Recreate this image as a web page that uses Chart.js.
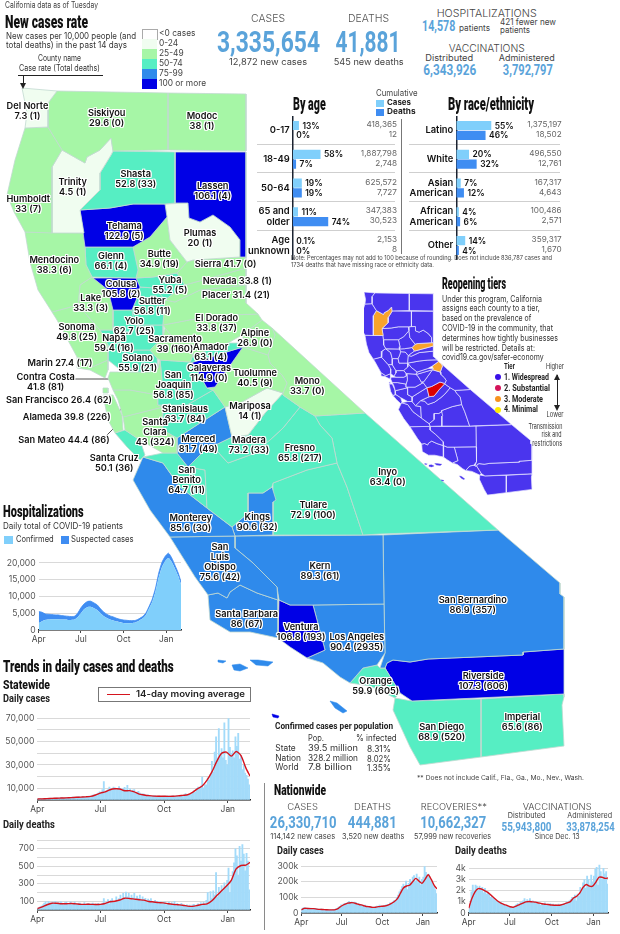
<!DOCTYPE html>
<html>
<head>
<meta charset="utf-8">
<title>California COVID-19</title>
<script src="https://cdn.jsdelivr.net/npm/chart.js@4"></script>
<style>
  html, body { margin: 0; background: #fff; }
  #page { position: relative; width: 620px; height: 934px; overflow: hidden; }
  #page canvas { position: absolute; }
  .t { position: absolute; white-space: pre; z-index: 3; }
  .halo { text-shadow: 1px 0 #fff, -1px 0 #fff, 0 1px #fff, 0 -1px #fff, 1px 1px #fff, -1px -1px #fff, 1px -1px #fff, -1px 1px #fff; }
  .box { position: absolute; z-index: 2; }
</style>
</head>
<body>
<div id="page"></div>
<script>
// ---- county data
let countyNames = ['Del Norte','Siskiyou','Modoc','Humboldt','Trinity','Shasta','Lassen','Tehama','Plumas','Mendocino','Glenn','Butte','Sierra','Nevada','Placer','Colusa','Yuba','Sutter','Lake','Yolo','Sonoma','Napa','Sacramento','El Dorado','Amador','Alpine','Solano','Calaveras','Tuolumne','Marin','Contra Costa','San Joaquin','Mono','San Francisco','Alameda','Stanislaus','Mariposa','San Mateo','Santa Clara','Merced','Madera','Fresno','Santa Cruz','San Benito','Inyo','Monterey','Kings','Tulare','San Luis Obispo','Kern','Santa Barbara','Ventura','Los Angeles','San Bernardino','Orange','Riverside','San Diego','Imperial'];
let countyRates = [7.3,29.6,38,33,4.5,52.8,106.1,122.9,20,38.3,66.1,34.9,41.7,33.8,31.4,105.8,55.2,56.8,33.3,62.7,49.8,59.4,39,33.8,63.1,26.9,55.9,114.9,40.5,27.4,41.8,56.8,33.7,26.4,39.8,63.7,14,44.4,43,81.7,73.2,65.8,50.1,64.7,63.4,85.6,90.6,72.9,75.6,89.3,86,106.8,90.4,86.9,59.9,107.3,68.9,65.6];
let countyDeaths = [1,0,1,7,1,33,4,5,1,6,4,19,0,1,21,2,5,11,3,25,25,16,160,37,4,0,21,0,9,17,81,85,0,62,226,84,1,86,324,49,33,217,36,11,0,30,32,100,42,61,67,193,2935,357,605,606,520,86];

// county outlines in map units
let countyOutlines = [
  [[22,88],[57,91],[48,103],[48,127],[25,128],[27,113]],
  [[57,91],[168,93],[168,150],[113,151],[111,138],[100,150],[87,157],[85,163],[62,150],[48,127],[48,103]],
  [[168,93],[246,94],[246,151],[168,150]],
  [[25,128],[48,127],[62,150],[52,167],[52,233],[25,232],[14,212],[7,195],[15,160]],
  [[62,150],[85,163],[87,157],[100,150],[111,138],[113,151],[111,155],[100,173],[100,190],[80,210],[84,233],[52,233],[52,167]],
  [[113,151],[175,152],[175,203],[165,204],[133,204],[110,208],[80,210],[100,190],[100,173],[111,155]],
  [[175,152],[246,152],[246,257],[240,257],[240,240],[230,227],[213,215],[200,222],[189,218],[188,203],[175,203]],
  [[80,210],[110,208],[133,204],[165,204],[167,217],[150,237],[133,247],[85,247]],
  [[165,204],[188,203],[189,218],[200,222],[213,215],[230,227],[240,240],[240,257],[193,260],[187,262],[170,240],[167,217]],
  [[25,232],[84,233],[85,247],[86,265],[92,277],[80,285],[78,305],[52,312],[38,290],[30,262]],
  [[85,247],[133,247],[138,270],[136,278],[92,277],[86,265]],
  [[133,247],[150,237],[167,217],[170,240],[187,262],[177,273],[153,277],[136,278],[138,270]],
  [[187,262],[193,260],[240,257],[246,257],[246,268],[185,285],[177,273]],
  [[185,285],[246,268],[246,285],[200,290],[175,302],[165,300]],
  [[165,300],[175,302],[200,290],[246,285],[246,303],[258,314],[228,315],[200,318],[163,325]],
  [[93,278],[136,278],[140,287],[137,298],[132,310],[113,310],[108,290]],
  [[153,277],[177,273],[185,285],[165,300],[155,288],[140,287],[136,278]],
  [[140,287],[155,288],[165,300],[163,325],[135,325],[132,310],[137,298]],
  [[80,285],[92,277],[108,290],[113,310],[113,330],[100,330],[78,305]],
  [[113,310],[132,310],[135,325],[163,325],[163,338],[155,345],[150,350],[125,350],[113,330]],
  [[52,312],[78,305],[100,330],[108,345],[108,360],[92,367],[77,357],[57,320]],
  [[100,330],[113,330],[125,350],[125,358],[118,368],[108,360],[108,345]],
  [[163,338],[165,328],[175,340],[193,355],[190,362],[160,360],[157,358],[150,350],[155,345]],
  [[163,325],[200,318],[228,315],[258,314],[262,320],[242,335],[228,343],[193,355],[175,340],[165,328]],
  [[193,355],[228,343],[245,343],[243,347],[190,363]],
  [[242,335],[262,320],[272,328],[275,335],[268,355],[243,347],[245,343]],
  [[118,368],[125,358],[125,350],[150,350],[157,358],[158,368],[150,372],[125,372]],
  [[190,363],[243,347],[215,387],[207,388],[197,370]],
  [[243,347],[268,355],[270,363],[282,375],[287,383],[283,393],[267,388],[240,403],[225,407],[213,390],[207,388],[215,387]],
  [[77,357],[92,367],[108,360],[108,370],[105,378],[90,370],[77,368]],
  [[110,372],[125,372],[150,372],[158,368],[160,360],[162,380],[158,395],[130,390],[113,390],[108,378]],
  [[160,360],[190,362],[190,363],[197,370],[207,388],[213,390],[187,405],[158,405],[158,395],[162,380]],
  [[272,328],[365,413],[315,416],[300,407],[283,395],[283,393],[287,383],[282,375],[270,363],[268,355],[275,335]],
  [[103,388],[108,388],[108,393],[103,393]],
  [[113,390],[130,390],[158,395],[158,405],[163,407],[123,417],[118,400]],
  [[158,405],[187,405],[213,390],[225,407],[200,423],[177,438],[163,430],[163,407]],
  [[225,407],[240,403],[267,388],[283,393],[265,413],[248,435],[232,437]],
  [[103,395],[113,395],[122,415],[123,430],[115,433],[108,420]],
  [[123,417],[163,407],[163,430],[177,438],[177,453],[163,453],[140,440],[125,430]],
  [[177,438],[200,423],[225,407],[232,437],[205,450],[188,467],[177,453]],
  [[232,437],[248,435],[265,413],[283,393],[283,395],[300,407],[283,428],[270,440],[250,455],[228,463],[218,452],[205,450]],
  [[205,450],[218,452],[228,463],[250,455],[270,440],[283,428],[300,407],[315,416],[320,425],[332,438],[337,463],[307,470],[273,483],[272,487],[263,493],[248,493],[248,513],[232,527],[207,508],[205,470],[188,467]],
  [[115,433],[125,430],[140,440],[145,455],[140,460],[127,447]],
  [[143,457],[163,453],[177,453],[188,467],[205,470],[207,508],[180,487],[163,463]],
  [[315,416],[365,413],[498,530],[380,534],[363,535],[347,487],[337,463],[332,438],[320,425]],
  [[143,457],[163,463],[180,487],[207,508],[232,527],[235,536],[170,537],[150,510],[133,480]],
  [[232,527],[248,513],[248,493],[263,493],[272,487],[276,500],[273,502],[273,535],[235,536]],
  [[273,535],[273,483],[307,470],[337,463],[347,487],[363,535]],
  [[170,537],[235,536],[235,548],[253,563],[265,575],[277,587],[278,600],[257,593],[240,585],[230,592],[227,598],[218,593],[208,595],[195,577]],
  [[235,536],[383,535],[384,604],[313,605],[290,605],[279,600],[277,587],[265,575],[253,563],[235,548]],
  [[208,595],[218,593],[227,598],[230,592],[240,585],[257,593],[278,600],[278,638],[250,632],[230,632],[210,620]],
  [[279,600],[290,605],[313,605],[325,650],[307,658],[290,647],[278,638]],
  [[313,605],[384,604],[385,653],[377,665],[363,668],[350,683],[340,677],[323,663],[307,658],[325,650]],
  [[383,535],[498,530],[560,583],[560,594],[564,597],[564,649],[523,652],[523,655],[428,659],[410,662],[393,660],[387,663],[385,668],[380,668],[385,653],[384,604]],
  [[350,683],[363,668],[377,665],[380,668],[385,668],[400,693],[395,698],[370,686]],
  [[564,649],[523,652],[523,655],[428,659],[410,662],[393,660],[387,663],[385,668],[400,693],[412,701],[564,694]],
  [[395,698],[412,701],[481,699],[481,757],[420,765],[410,747],[393,710]],
  [[481,699],[564,694],[564,697],[562,705],[564,746],[481,757]]
];
let islandOutlines = [
  [[218,660],[226,661],[223,663],[218,662]],
  [[232,665],[240,664],[248,668],[240,671],[234,670]],
  [[250,660],[258,660],[273,662],[268,666],[256,665]],
  [[330,701],[337,703],[347,711],[343,713],[335,708]]
];
let darkIsland = [[272,714],[279,716],[278,718],[273,717]];
let leaderLines = [
  [[75,379],[125,379]],
  [[105,420],[131,403]],
  [[105,437],[115,427]]
];
// anchor of each county label, same order as countyNames
let labelSpots = [[27.5,110.5],[106.7,118],[202,121],[28.3,204],[72.7,186.5],[135.7,178.5],[212.7,190.7],[124.3,231],[200,238],[54.3,265],[111,260.7],[159.3,259.3],[225.7,264],[237.3,281],[236,295.3],[121,289.3],[170,285],[152.3,305.7],[90.7,303.3],[134,325.7],[76.7,331.7],[114,343.3],[175,344],[216.7,323.3],[210.7,352.3],[255,337.7],[137.7,363.3],[209,373.3],[255,378.3],[60,362.7],[45.7,382.3],[173.3,385],[307.3,385.7],[59,400],[66.7,417.3],[185,414.3],[250,411],[64,439.7],[155,432.3],[198.3,444.3],[249,445.3],[300,453.3],[114.3,463],[186.7,480],[387.7,476.7],[190.7,523.3],[257.3,521.7],[313.3,510],[220,562.3],[320,571],[246.7,619.3],[301,632.3],[356.7,641.7],[472.7,605],[375.7,686],[483.3,680.7],[441.7,732.3],[522.3,721.7]];
let oneLineCounties = ['Sierra','Nevada','Placer','Marin','San Francisco','Alameda','San Mateo'];
let stackedNames = {'San Joaquin':'San\nJoaquin','Santa Clara':'Santa\nClara','San Benito':'San\nBenito','San Luis Obispo':'San\nLuis\nObispo'};

let rateBreaks = [25,50,75,100];
let rateColors = ['#f0fdf0','#a6f6a6','#56eec3','#2f8aeb','#0000e6'];
let tierOfCounty = {'Trinity':3,'Sierra':3,'Alpine':3,'Mariposa':2};
let tierColors = ['#4a35ee','#dd0000','#f8a32c'];

// ---- breakdown bars
let ageGroups = ['0-17','18-49','50-64',['65 and','older'],['Age','unknown']];
let ageCasePct = [13,58,19,11,0.1];
let ageDeathPct = [0,7,19,74,0];
let ageCaseCounts = ['418,365','1,887,798','625,572','347,383','2,153'];
let ageDeathCounts = ['12','2,748','7,727','30,523','8'];
let raceGroups = ['Latino','White',['Asian','American'],['African','American'],'Other'];
let raceCasePct = [55,20,7,4,14];
let raceDeathPct = [46,32,12,6,4];
let raceCaseCounts = ['1,375,197','496,550','167,317','100,486','359,317'];
let raceDeathCounts = ['18,502','12,761','4,643','2,571','1,670'];

// ---- time series: x is days since Apr 1
let monthDays = [0,91,183,275];
let monthNames = ['Apr','Jul','Oct','Jan'];
let weeklyDays = [0,7,14,21,28,35,42,49,56,63,70,77,84,91,98,105,112,119,126,133,140,147,154,161,168,175,182,189,196,203,210,217,224,231,238,245,252,259,266,273,280,287,294,301,307];

let hospConfirmed = [2000,2600,3000,3100,3200,3200,3200,3100,3100,3000,3000,3100,3800,5000,6200,6800,6900,6500,6000,5100,4200,3600,3100,2800,2500,2300,2100,2000,2000,2100,2300,2800,3400,4400,6300,8400,11500,15700,18800,20600,21500,20300,18300,16100,13600];
let hospSuspected = [3500,2700,1800,1600,1400,1300,1300,1200,1100,1100,1000,1000,1200,1600,1600,1700,1700,1600,1500,1300,1200,1100,1100,1100,1000,900,900,900,800,700,600,600,600,600,700,800,1000,1300,1400,1400,1400,1200,1000,900,800];

// state bars are one value per 2 days
let stateCases = [
  800,1000,1200,1100,900,1300,1500,1200,1100,1500,1700,1300,1300,1700,1900,
  1600,1400,2000,2100,1500,1600,2300,2200,1700,1800,2400,2600,2000,1900,2700,2900,
  2100,2500,3000,2400,2600,3100,3300,2700,3400,4200,4500,3900,5000,6000,7000,
  5500,9000,15700,7000,7800,9000,11000,9500,8800,11000,10500,8600,9500,11500,10000,
  8000,9800,10800,8500,12500,8000,9500,7500,8500,9000,6500,6800,7500,6000,5000,5200,
  5000,4300,3800,4500,4000,3000,3200,3800,3500,2800,3300,3500,3000,3100,3400,
  3300,3000,3500,3400,2700,3300,3600,3000,3300,3700,2900,3500,4000,3600,4300,
  5500,4200,4500,5000,4600,6500,7800,6500,9800,11000,9500,12000,19700,10500,13000,
  13000,19000,17000,22000,33000,24000,41000,54000,36000,61000,40000,44000,36000,66000,34000,30000,
  70000,45000,40000,42000,36000,54000,46000,57000,35000,38000,26000,30000,23000,21000,18000,13000
];
let stateCasesAvg = [900,1000,1200,1400,1500,1700,1800,2000,2300,2500,2700,3100,4300,5900,7000,8800,9600,9400,7900,8000,7000,5000,4300,3700,3300,3200,3200,3100,3200,3500,4000,4500,6500,9500,12000,17000,24000,33000,40000,41000,37500,41500,38000,27500,20500];
let stateDeaths = [
  15,25,35,45,60,80,95,70,100,85,65,90,80,100,70,
  85,75,95,80,60,85,90,70,75,95,60,70,90,75,55,80,
  80,65,60,85,55,70,75,60,70,80,55,70,65,75,60,
  55,80,130,60,90,120,70,110,130,90,100,150,95,130,170,
  110,190,130,205,150,190,110,170,140,190,120,160,130,170,110,150,
  120,135,90,125,110,130,85,100,110,85,100,75,95,70,85,
  95,60,80,90,55,85,70,100,60,75,55,65,75,50,60,
  50,60,45,55,40,60,65,35,60,70,50,85,60,90,55,
  110,200,90,210,130,220,170,430,150,260,200,280,220,310,260,340,
  480,200,330,440,540,700,620,400,730,560,750,640,450,650,560,230
];
let stateDeathsAvg = [15,35,60,78,77,72,72,75,70,65,65,65,63,65,75,95,100,115,135,132,125,118,113,98,92,85,82,72,65,60,55,45,42,52,65,70,105,165,220,275,340,470,510,515,545];

// nation bars are one value per 3 days
let nationCases = [
  25000,32000,34000,31000,33000,30000,28000,32000,27000,29000,
  30000,28000,26000,25000,22000,26000,23000,21000,22000,24000,20000,
  20000,21000,18000,23000,20000,26000,28000,38000,42000,52000,
  48000,58000,62000,60000,68000,74000,66000,72000,65000,70000,
  68000,55000,60000,52000,56000,48000,45000,50000,40000,44000,38000,
  42000,30000,38000,36000,40000,44000,35000,50000,45000,42000,
  48000,44000,52000,55000,50000,65000,60000,72000,80000,78000,
  100000,115000,135000,150000,170000,185000,160000,205000,150000,190000,
  215000,190000,230000,240000,205000,250000,195000,230000,180000,215000,
  230000,300000,260000,240000,250000,220000,200000,190000,170000,150000,125000
];
let nationCasesAvg = [20000,30000,29000,28000,28000,25000,23000,22000,21000,20000,20000,22000,30000,45000,55000,63000,66000,65000,58000,53000,48000,42000,40000,36000,37000,41000,43000,45000,50000,60000,72000,90000,125000,160000,173000,178000,200000,222000,205000,190000,215000,245000,215000,175000,155000];
let nationDeaths = [
  300,800,1900,2500,2000,2500,2400,2000,2400,2100,
  2300,1800,2200,1700,1900,1700,1400,1500,1300,1200,1100,
  1000,1000,850,900,750,800,650,700,600,500,
  550,400,500,650,750,850,700,950,1000,1100,
  1300,1000,1200,1050,1300,950,1100,1000,900,1000,800,
  900,700,850,700,900,750,800,700,850,650,
  800,700,750,600,800,650,750,800,850,750,
  1000,900,1100,1200,1400,1300,1600,1100,1700,1500,
  2300,1900,2700,3000,2200,3300,3000,2500,3400,2800,
  3300,3900,4100,2500,4300,3700,3000,4000,3500,3700,2600
];
let nationDeathsAvg = [430,1300,1900,2180,2150,2000,1850,1600,1350,1100,900,780,680,560,520,620,760,880,1000,1030,1000,970,900,830,780,760,720,700,690,720,800,900,1020,1350,1500,1800,2300,2550,2400,2400,2750,3200,3200,3100,3130];

let lastDay = 307;
let page = document.getElementById('page');
let bodyFont = 'Inter, Roboto, sans-serif';
let headFont = 'Roboto, sans-serif';
let blue = '#5aa3da';
let lightBar = '#80cffb';
let darkBar = '#3f8df2';
let dailyBar = '#a3dbfa';
let avgRed = '#d5141e';

Chart.defaults.font.family = bodyFont;
Chart.defaults.animation = false;

// text helper: y is the vertical middle, w squeezes the text to that width
let T = function(text, x, y, o) {
    o = o || {};
    let size = o.size || 9;
    let lh = o.lh || size * 1.15;
    let el = document.createElement('div');
    el.className = 't' + (o.halo ? ' halo' : '');
    el.textContent = text;
    el.style.font = (o.weight || 400) + ' ' + size + 'px/' + lh + 'px ' + (o.font || bodyFont);
    el.style.color = o.color || '#333';
    el.style.textAlign = o.align === 'l' ? 'left' : (o.align === 'r' ? 'right' : 'center');
    page.appendChild(el);
    let box = el.getBoundingClientRect();
    let align = o.align || 'l';
    let left = x;
    if (align === 'c') left = x - box.width / 2;
    if (align === 'r') left = x - box.width;
    el.style.left = left + 'px';
    el.style.top = (y - box.height / 2) + 'px';
    if (o.w) {
        el.style.transformOrigin = align === 'c' ? 'center' : (align === 'r' ? 'right' : 'left');
        el.style.transform = 'scaleX(' + (o.w / box.width) + ')';
    }
    return el;
};

let box = function(x, y, w, h, color, border) {
    let el = document.createElement('div');
    el.className = 'box';
    el.style.cssText += 'left:' + x + 'px;top:' + y + 'px;width:' + w + 'px;height:' + h + 'px;background:' + color + ';';
    if (border) el.style.border = border;
    page.appendChild(el);
    return el;
};

let arrowHead = function(x, y, up) {
    let el = box(x - 3.5, y, 0, 0, 'transparent');
    el.style.borderLeft = '3.5px solid transparent';
    el.style.borderRight = '3.5px solid transparent';
    el.style[up ? 'borderBottom' : 'borderTop'] = '6px solid #222';
};

let addCanvas = function(left, top, width, height, z) {
    let canvas = document.createElement('canvas');
    canvas.width = width;
    canvas.height = height;
    canvas.style.left = left + 'px';
    canvas.style.top = top + 'px';
    canvas.style.zIndex = z === undefined ? 1 : z;
    page.appendChild(canvas);
    return canvas;
};

let colorForRate = function(rate) {
    let bucket = 0;
    rateBreaks.forEach((limit) => { if (rate >= limit) bucket++; });
    return rateColors[bucket];
};

let outlineDataset = function(outline, fillColor, lineColor, lineWidth) {
    return {
        data: outline.map((p) => ({x: p[0], y: p[1]})),
        showLine: true,
        fill: 'shape',
        backgroundColor: fillColor,
        borderColor: lineColor,
        borderWidth: lineWidth,
        pointRadius: 0,
        tension: 0
    };
};

let closeShape = (outline) => outline.concat([outline[0]]);

let mapOptions = function(xMin, xMax, yMin, yMax) {
    return {
        responsive: false,
        layout: {padding: 0},
        plugins: {legend: {display: false}, tooltip: {enabled: false}},
        scales: {
            x: {type: 'linear', display: false, min: xMin, max: xMax},
            y: {type: 'linear', display: false, min: yMin, max: yMax, reverse: true}
        }
    };
};

let renderMap = function() {
    let sets = countyOutlines.map((outline, i) =>
        outlineDataset(closeShape(outline), colorForRate(countyRates[i]), '#c2d9d0', 0.8));
    islandOutlines.forEach((outline) => sets.push(outlineDataset(closeShape(outline), rateColors[3], rateColors[3], 0.5)));
    sets.push(outlineDataset(closeShape(darkIsland), rateColors[4], rateColors[4], 0.5));
    leaderLines.forEach((seg) => {
        let line = outlineDataset(seg, 'transparent', '#222', 0.8);
        line.fill = false;
        sets.push(line);
    });
    new Chart(addCanvas(0, 80, 570, 700, 0), {
        type: 'scatter',
        data: {datasets: sets},
        options: mapOptions(0, 570, 80, 780)
    });
};

let renderTierMap = function() {
    let sets = countyOutlines.map((outline, i) => {
        let tier = tierOfCounty[countyNames[i]] || 1;
        return outlineDataset(closeShape(outline), tierColors[tier - 1], '#e8e6ff', 0.7);
    });
    islandOutlines.concat([darkIsland]).forEach((outline) =>
        sets.push(outlineDataset(closeShape(outline), tierColors[0], tierColors[0], 0.3)));
    new Chart(addCanvas(364, 292, 175, 205), {
        type: 'scatter',
        data: {datasets: sets},
        options: mapOptions(22, 22 + 175 / 0.31, 88, 88 + 205 / 0.3)
    });
};

let renderCountyLabels = function() {
    countyNames.forEach((name, i) => {
        let value = countyRates[i] + ' (' + countyDeaths[i] + ')';
        let sep = oneLineCounties.indexOf(name) >= 0 ? ' ' : '\n';
        T((stackedNames[name] || name) + sep + value, labelSpots[i][0], labelSpots[i][1], {
            size: 9.2, weight: 600, lh: 10, color: '#111', align: 'c', halo: true
        });
    });
};

// percent labels at the tip of each bar
let barValueLabels = {
    id: 'barValueLabels',
    afterDatasetsDraw(chart) {
        let ctx = chart.ctx;
        ctx.save();
        ctx.font = '600 8.4px ' + bodyFont;
        ctx.fillStyle = '#111';
        ctx.textBaseline = 'middle';
        chart.data.datasets.forEach((set, d) => {
            chart.getDatasetMeta(d).data.forEach((bar, i) => {
                ctx.fillText(set.data[i] + '%', bar.x + 3.5, bar.y + 0.5);
            });
        });
        ctx.restore();
    }
};

let renderBreakdown = function(left, axisX, right, pxPerPct, groups, cases, deaths) {
    let top = 116;
    new Chart(addCanvas(left, top, right - left, 144), {
        type: 'bar',
        data: {
            labels: groups,
            datasets: [
                {data: cases, backgroundColor: lightBar, categoryPercentage: 0.68, barPercentage: 0.94},
                {data: deaths, backgroundColor: darkBar, categoryPercentage: 0.68, barPercentage: 0.94}
            ]
        },
        options: {
            responsive: false,
            indexAxis: 'y',
            layout: {padding: 0},
            plugins: {legend: {display: false}, tooltip: {enabled: false}},
            scales: {
                x: {display: false, min: 0, max: (right - axisX) / pxPerPct},
                y: {
                    // keep the rows at full height, the two line labels fit inside them
                    afterFit(scale) {
                        scale.width = axisX - left;
                        scale.paddingTop = 0;
                        scale.paddingBottom = 0;
                    },
                    border: {color: '#1a2230', width: 1.5},
                    grid: {display: false, drawTicks: false},
                    ticks: {color: '#111', padding: 3, font: {size: 9.4, weight: 600, lineHeight: 1.1}, autoSkip: false}
                }
            }
        },
        plugins: [barValueLabels]
    });
};

let monthAxis = function() {
    return {
        type: 'linear',
        min: 0,
        max: lastDay,
        offset: false,
        afterBuildTicks(scale) { scale.ticks = monthDays.map((value) => ({value: value})); },
        afterFit(scale) { scale.height = 14; },
        border: {color: '#222', width: 1.5},
        grid: {offset: false, drawOnChartArea: false, tickLength: 3, color: '#444'},
        ticks: {
            color: '#444', padding: 1, maxRotation: 0, autoSkip: false, font: {size: 8.4},
            callback: (value) => monthNames[monthDays.indexOf(value)]
        }
    };
};

let valueAxis = function(plotLeft, max, step, showTick, hideGridAt, tickText) {
    return {
        type: 'linear',
        min: 0,
        max: max,
        afterFit(scale) { scale.width = plotLeft; },
        border: {display: false},
        grid: {
            drawTicks: false,
            color: (c) => (hideGridAt !== undefined && c.tick.value === hideGridAt) ? 'transparent' : '#d9d9d9'
        },
        ticks: {
            stepSize: step, autoSkip: false, color: '#555', padding: 3, font: {size: 8.6},
            callback: (value) => showTick(value) ? tickText(value) : ''
        }
    };
};

let withComma = (v) => v.toLocaleString('en-US');

// one plot of daily bars with a moving average line
let renderTrend = function(spec) {
    let padTop = 5;
    let canvas = addCanvas(spec.left, spec.yTop - padTop, spec.plotRight - spec.left + 6, spec.yBase - spec.yTop + padTop + 14);
    new Chart(canvas, {
        data: {
            datasets: [
                {
                    type: 'line',
                    data: weeklyDays.map((day, i) => ({x: day, y: spec.avg[i]})),
                    borderColor: avgRed,
                    borderWidth: 1.4,
                    pointRadius: 0,
                    tension: 0.25,
                    order: 0
                },
                {
                    type: 'bar',
                    data: spec.bars.map((value, i) => ({x: i * spec.barStep, y: value})),
                    backgroundColor: dailyBar,
                    barThickness: spec.barWidth,
                    order: 1
                }
            ]
        },
        options: {
            responsive: false,
            layout: {padding: {top: padTop, right: 6, left: 0, bottom: 0}},
            plugins: {legend: {display: false}, tooltip: {enabled: false}},
            scales: {
                x: monthAxis(),
                y: valueAxis(spec.plotLeft - spec.left, spec.max, spec.step, spec.showTick, spec.hideGridAt, spec.tickText)
            }
        }
    });
};

let renderHospitalChart = function() {
    let padTop = 5;
    new Chart(addCanvas(0, 543 - padTop, 187, 630.3 - 543 + padTop + 14), {
        type: 'line',
        data: {
            datasets: [
                {
                    data: weeklyDays.map((day, i) => ({x: day, y: hospConfirmed[i]})),
                    borderWidth: 0, pointRadius: 0, tension: 0.2,
                    backgroundColor: lightBar, fill: 'origin'
                },
                {
                    data: weeklyDays.map((day, i) => ({x: day, y: hospSuspected[i]})),
                    borderWidth: 0.8, borderColor: darkBar, pointRadius: 0, tension: 0.2,
                    backgroundColor: darkBar, fill: '-1'
                }
            ]
        },
        options: {
            responsive: false,
            layout: {padding: {top: padTop, right: 6, left: 0, bottom: 0}},
            plugins: {legend: {display: false}, tooltip: {enabled: false}},
            scales: {
                x: monthAxis(),
                y: Object.assign(valueAxis(38.7, 25000, 5000, (v) => v < 25000, 25000, withComma), {stacked: true})
            }
        }
    });
};

let renderPageText = function() {
    T('California data as of Tuesday', 5, 5.5, {size: 8.4, w: 93, color: '#444'});
    T('New cases rate', 5, 21.5, {size: 19, weight: 900, font: headFont, w: 83, color: '#111'});
    T('New cases per 10,000 people (and', 5.5, 36, {size: 9, w: 130});
    T('total deaths) in the past 14 days', 5.5, 45, {size: 9, w: 121});

    let legendText = ['<0 cases','0-24','25-49','50-74','75-99','100 or more'];
    let legendTops = [28.5,39,49,59,69,78.5];
    let legendFill = ['#fff'].concat(rateColors);
    legendText.forEach((text, i) => {
        let swatch = box(142, legendTops[i], i === 0 ? 13.5 : 14.5, i === 0 ? 9.5 : 10, legendFill[i], i === 0 ? '0.7px solid #aaa' : '');
        swatch.style.zIndex = 2;
        T(text, 159, legendTops[i] + 5.2, {size: 8.4, color: '#444'});
    });

    T('County name', 59, 59, {size: 8.4, align: 'c', w: 43});
    T('Case rate (Total deaths)', 59.5, 69, {size: 8.4, align: 'c', w: 81});
    box(18, 75, 85, 1, '#222');
    box(23, 76, 1, 8, '#222');
    arrowHead(23.5, 83, false);

    // state totals
    T('CASES', 268, 19, {size: 10.5, align: 'c', w: 34, color: '#555', weight: 300});
    T('3,335,654', 268.3, 43, {size: 29.5, weight: 700, font: headFont, align: 'c', w: 103, color: blue});
    T('12,872 new cases', 268, 62.5, {size: 8.6, align: 'c', w: 78, color: '#444'});
    T('DEATHS', 368.7, 19, {size: 10.5, align: 'c', w: 41, color: '#555', weight: 300});
    T('41,881', 368, 43, {size: 29.5, weight: 700, font: headFont, align: 'c', w: 65, color: blue});
    T('545 new deaths', 368.7, 62.5, {size: 8.6, align: 'c', w: 70, color: '#444'});

    T('HOSPITALIZATIONS', 487, 14, {size: 10, align: 'c', w: 100, color: '#444', weight: 300});
    T('14,578', 422.3, 27, {size: 15, weight: 700, font: headFont, w: 33.3, color: blue});
    T('patients', 458.7, 29, {size: 8.4, w: 31, color: '#444'});
    T('421 fewer new', 499.7, 22.5, {size: 8.4, w: 56, color: '#444'});
    T('patients', 499.7, 31, {size: 8.4, w: 30, color: '#444'});
    T('VACCINATIONS', 487, 49, {size: 10, align: 'c', w: 76, color: '#444', weight: 300});
    T('Distributed', 449.5, 59, {size: 8.6, align: 'c', w: 48, color: '#444'});
    T('Administered', 527, 59, {size: 8.6, align: 'c', w: 56, color: '#444'});
    T('6,343,926', 450, 70.5, {size: 15, weight: 700, font: headFont, align: 'c', w: 53, color: blue});
    T('3,792,797', 527.5, 70.5, {size: 15, weight: 700, font: headFont, align: 'c', w: 50, color: blue});

    // breakdown headers
    T('By age', 293.3, 103.5, {size: 19, weight: 900, font: headFont, w: 32.7, color: '#111'});
    T('By race/ethnicity', 448, 103.5, {size: 19, weight: 900, font: headFont, w: 86, color: '#111'});
    T('Cumulative', 397, 94, {size: 8.6, align: 'c', w: 41.7, color: '#444'});
    box(376, 100, 8, 7.4, lightBar);
    box(376, 108.5, 8, 7.6, darkBar);
    T('Cases', 387, 103, {size: 8, weight: 700, w: 24, color: '#222'});
    T('Deaths', 387, 112, {size: 8, weight: 700, w: 28.5, color: '#222'});

    // divider lines between the rows
    [144.3,171.7,201.3,230.3].forEach((y) => {
        box(257, y, 138, 0.8, '#cfcfcf').style.zIndex = 0;
        box(409, y, 151, 0.8, '#cfcfcf').style.zIndex = 0;
    });
    box(401, 119, 1.2, 135, '#777');

    let rowTops = [125,153.5,182.3,211,240];
    rowTops.forEach((y, i) => {
        T(ageCaseCounts[i], 397, y, {size: 8.2, align: 'r', color: '#666'});
        T(ageDeathCounts[i], 397, y + 10, {size: 8.2, align: 'r', color: '#666'});
        T(raceCaseCounts[i], 561.7, y, {size: 8.2, align: 'r', color: '#666'});
        T(raceDeathCounts[i], 561.7, y + 10, {size: 8.2, align: 'r', color: '#666'});
    });

    T('Note: Percentages may not add to 100 because of rounding. Does not include 836,787 cases and', 291, 259, {size: 6.4, w: 261, color: '#444'});
    T('1734 deaths that have missing race or ethnicity data.', 291, 266, {size: 6.4, w: 143, color: '#444'});

    // reopening tiers
    T('Reopening tiers', 441.7, 284, {size: 16.5, weight: 900, font: headFont, w: 64, color: '#111'});
    let tierBlurb = [
        ['Under this program, California',300,100],
        ['assigns each county to a tier,',309.3,97.7],
        ['based on the prevalence of',319.3,89.3],
        ['COVID-19 in the community, that',329,111],
        ['determines how tightly businesses',338.7,116],
        ['will be restricted. Details at:',348.7,93],
        ['covid19.ca.gov/safer-economy',358.3,101.7]
    ];
    tierBlurb.forEach((row) => T(row[0], 441.7, row[1], {size: 8.6, w: row[2], color: '#333'}));
    T('Tier', 504.3, 367.3, {size: 7.4, weight: 700, w: 11, color: '#222'});
    T('Higher', 554.7, 367.3, {size: 7.6, align: 'c', w: 18, color: '#333'});
    let tierRows = [['1. Widespread',377.3,45,'#3a10e8'],['2. Substantial',388,46,'#d4145a'],['3. Moderate',399,39,'#f7931e'],['4. Minimal',409.7,34,'#ffec00']];
    tierRows.forEach((row) => {
        let dot = box(494.7, row[1] - 3, 6, 6, row[3]);
        dot.style.borderRadius = '50%';
        T(row[0], 504.3, row[1], {size: 9.2, weight: 700, font: headFont, w: row[2], color: '#222'});
    });
    box(556.5, 375, 1, 34, '#222');
    arrowHead(557, 373.5, true);
    arrowHead(557, 405, false);
    T('Lower', 554.7, 415.3, {size: 7.6, align: 'c', w: 17, color: '#333'});
    T('Transmission', 562, 427.3, {size: 7.6, align: 'r', w: 34, color: '#333'});
    T('risk and', 562, 435.7, {size: 7.6, align: 'r', w: 20, color: '#333'});
    T('restrictions', 562, 444, {size: 7.6, align: 'r', w: 30, color: '#333'});

    // hospitalizations
    T('Hospitalizations', 3, 512, {size: 16.5, weight: 900, font: headFont, w: 80.7, color: '#111'});
    T('Daily total of COVID-19 patients', 3, 527, {size: 8.6, w: 120});
    box(4, 536, 8.5, 8, lightBar);
    T('Confirmed', 15.7, 540, {size: 8.6, w: 37.7});
    box(61, 536, 8, 8, darkBar);
    T('Suspected cases', 70.7, 540, {size: 8.6, w: 62.7});

    // statewide trends
    T('Trends in daily cases and deaths', 3, 666.7, {size: 17, weight: 900, font: headFont, w: 170.7, color: '#111'});
    T('Statewide', 3, 685, {size: 12.5, weight: 800, font: headFont, w: 47, color: '#111'});
    T('Daily cases', 3, 698.3, {size: 10, weight: 700, font: headFont, w: 47, color: '#222'});
    T('Daily deaths', 3, 825, {size: 10, weight: 700, font: headFont, w: 51.7, color: '#222'});
    box(98, 687, 151, 13, 'transparent', '1.2px solid #777');
    box(107, 693.5, 23, 1.3, avgRed);
    T('14-day moving average', 135.7, 693.8, {size: 9, weight: 600, w: 109, color: '#222'});

    // population table
    T('Confirmed cases per population', 275.3, 727.3, {size: 8.6, weight: 700, font: headFont, w: 118, color: '#222'});
    T('Pop.', 307.7, 738.7, {size: 8.4, w: 16});
    T('% infected', 355.7, 738.7, {size: 8.4, w: 40.7});
    let popRows = [['State','39.5 million','8.31%',748.7],['Nation','328.2 million','8.02%',758.7],['World','7.8 billion','1.35%',768]];
    popRows.forEach((row) => {
        T(row[0], 275.3, row[3], {size: 8.4});
        T(row[1], 307.7, row[3], {size: 8.4, w: row[1].length > 11 ? 50 : (row[1].length > 10 ? 44 : 37)});
        T(row[2], 366.7, row[3] + 1, {size: 8.4, w: 24});
    });
    T('** Does not include Calif., Fla., Ga., Mo., Nev., Wash.', 416.7, 777.7, {size: 6.8, w: 167, color: '#444'});

    // nationwide
    box(263.5, 783, 1.5, 147, '#8a8a8a');
    T('Nationwide', 274.3, 790.7, {size: 15.5, weight: 900, font: headFont, w: 52, color: '#111'});
    T('CASES', 302.7, 806.7, {size: 9, align: 'c', w: 30.7, color: '#444', weight: 300});
    T('26,330,710', 303, 823, {size: 17, weight: 700, font: headFont, align: 'c', w: 66.7, color: blue});
    T('114,142 new cases', 303, 837.7, {size: 7.6, align: 'c', w: 65, color: '#444'});
    T('DEATHS', 373, 806.7, {size: 9, align: 'c', w: 37, color: '#444', weight: 300});
    T('444,881', 372.7, 823, {size: 17, weight: 700, font: headFont, align: 'c', w: 49, color: blue});
    T('3,520 new deaths', 373, 837.7, {size: 7.6, align: 'c', w: 62.3, color: '#444'});
    T('RECOVERIES**', 454, 806.7, {size: 9, align: 'c', w: 66, color: '#444', weight: 300});
    T('10,662,327', 453.7, 823, {size: 17, weight: 700, font: headFont, align: 'c', w: 66, color: blue});
    T('57,999 new recoveries', 453, 837.7, {size: 7.6, align: 'c', w: 77, color: '#444'});
    T('VACCINATIONS', 557.3, 806.7, {size: 9, align: 'c', w: 69, color: '#444', weight: 300});
    T('Distributed', 526.7, 816.7, {size: 7.6, align: 'c', w: 37.7, color: '#444'});
    T('Administered', 589.7, 816.7, {size: 7.6, align: 'c', w: 44.7, color: '#444'});
    T('55,943,800', 526.7, 827.7, {size: 12, weight: 700, font: headFont, align: 'c', w: 50, color: blue});
    T('33,878,254', 590, 827.7, {size: 12, weight: 700, font: headFont, align: 'c', w: 48.3, color: blue});
    T('Since Dec. 13', 557, 837.7, {size: 7.6, align: 'c', w: 45, color: '#444'});
    T('Daily cases', 276.7, 850.7, {size: 10, weight: 700, font: headFont, w: 46.7, color: '#222'});
    T('Daily deaths', 455, 850.7, {size: 10, weight: 700, font: headFont, w: 51.7, color: '#222'});
};

let everyOther = (unit) => (value) => (value / unit) % 2 === 1;
let always = () => true;

renderMap();
renderTierMap();
renderCountyLabels();
renderPageText();
renderBreakdown(236, 292.7, 398, 0.48, ageGroups, ageCasePct, ageDeathPct);
renderBreakdown(405, 456.3, 560, 0.636, raceGroups, raceCasePct, raceDeathPct);
renderHospitalChart();
renderTrend({left: 0, plotLeft: 37.3, plotRight: 250, yTop: 715.3, yBase: 800.5,
    bars: stateCases, barStep: 2, barWidth: 1.2, avg: stateCasesAvg,
    max: 70000, step: 10000, showTick: everyOther(10000), tickText: withComma});
renderTrend({left: 0, plotLeft: 37.3, plotRight: 250, yTop: 837.3, yBase: 911.2,
    bars: stateDeaths, barStep: 2, barWidth: 1.2, avg: stateDeathsAvg,
    max: 800, step: 100, showTick: everyOther(100), tickText: withComma});
renderTrend({left: 270, plotLeft: 301.3, plotRight: 437, yTop: 862.7, yBase: 913.3,
    bars: nationCases, barStep: 3, barWidth: 1.2, avg: nationCasesAvg,
    max: 300000, step: 100000, showTick: always, tickText: (v) => v === 0 ? '0' : (v / 1000) + 'k'});
renderTrend({left: 447, plotLeft: 468.7, plotRight: 608.7, yTop: 853.7, yBase: 913.3,
    bars: nationDeaths, barStep: 3, barWidth: 1.2, avg: nationDeathsAvg,
    max: 5000, step: 1000, showTick: (v) => v < 5000, hideGridAt: 5000, tickText: (v) => v === 0 ? '0' : (v / 1000) + 'k'});
</script>
</body>
</html>
